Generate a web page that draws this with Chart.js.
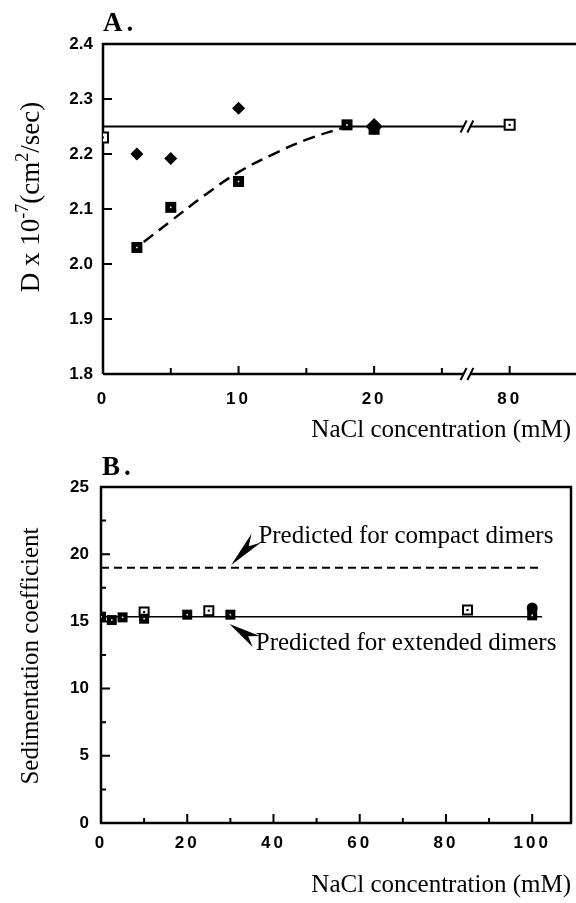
<!DOCTYPE html>
<html>
<head>
<meta charset="utf-8">
<script src="https://cdn.jsdelivr.net/npm/chart.js@4/dist/chart.umd.min.js"></script>
<style>
  html, body { margin: 0; padding: 0; background: #fff; overflow: hidden; }
  #wrapA { position: absolute; left: 0; top: 0; width: 576px; height: 450px; overflow: hidden; }
  #wrapB { position: absolute; left: 0; top: 450px; width: 576px; height: 453px; overflow: hidden; }
  canvas { display: block; }
</style>
</head>
<body>
<div id="wrapA"><canvas id="chartA" width="600" height="450"></canvas></div>
<div id="wrapB"><canvas id="chartB" width="576" height="453"></canvas></div>
<script>
"use strict";
// Panel A - diffusion coefficient vs NaCl (mM)
const aOpenX = [0, 80];
const aOpenY = [2.23, 2.253];
const aFilledX = [2.5, 5, 10, 18, 20];
const aFilledY = [2.03, 2.103, 2.15, 2.253, 2.245];
const aDiamondX = [2.5, 5, 10, 20];
const aDiamondY = [2.2, 2.192, 2.283, 2.25];
const aFitX = [3, 5, 7.5, 10, 12.5, 15, 18];
const aFitY = [2.04, 2.078, 2.125, 2.167, 2.199, 2.226, 2.25];
const aLevel = 2.25;
const aBreak = [26.6, 77.1];          // mM on each side of the axis break
const aYTicks = [1.8, 1.9, 2.0, 2.1, 2.2, 2.3, 2.4];
const aXTicks = [0, 10, 20, 80];
const aXLabels = ['0', '10', '20', '80'];
const aXMinor = [5, 15, 25];

// Panel B - sedimentation coefficient vs NaCl (mM)
const bFilledX = [0, 2.5, 5, 10, 20, 30, 100];
const bFilledY = [15.35, 15.1, 15.3, 15.2, 15.5, 15.5, 15.45];
const bOpenX = [10, 25, 85];
const bOpenY = [15.7, 15.8, 15.85];
const bCircleX = [100];
const bCircleY = [16.0];
const bExtended = 15.35;
const bCompact = 19.0;
const bLineX = [0, 102.3];
const bYTicks = [0, 5, 10, 15, 20, 25];
const bYMinor = [2.5, 7.5, 12.5, 17.5, 22.5];
const bXTicks = [0, 20, 40, 60, 80, 100];
const bXMinor = [10, 30, 50, 70, 90];
const bNotes = ['Predicted for compact dimers', 'Predicted for extended dimers'];
const bNoteAt = [[36.5, 20.84], [35.9, 12.89]];
const bArrowTip = [[30.2, 19.2], [29.8, 14.8]];
const bArrowBack = [[36.0, 21.2], [36.0, 13.5]];

const serif = "'Liberation Serif', 'Times New Roman', serif";
const sans = "'Liberation Sans', Arial, sans-serif";

function brk(mM) { return mM > aBreak[0] ? mM - (aBreak[1] - aBreak[0]) + 0.5 : mM; }
function pts(xs, ys, f) { return xs.map((x, i) => ({x: f ? f(x) : x, y: ys[i]})); }

// square marker (side in px) plus its centre dot, as two datasets on the same points
function squares(data, side, open) {
    return [
        {data: data, pointStyle: 'rect', pointRadius: open ? 1.5 : 1.1,
            backgroundColor: open ? '#000' : '#fff', borderWidth: 0},
        {data: data, pointStyle: 'rect', pointRadius: side / Math.SQRT2,
            backgroundColor: open ? '#fff' : '#000', borderColor: '#000', borderWidth: open ? 2 : 0}
    ];
}

function richText(ctx, parts, bx, cy) {
    // rotated title, baseline at x = bx, centred on cy
    let total = 0;
    parts.forEach(p => { ctx.font = p.f; total += ctx.measureText(p.t).width; });
    ctx.save();
    ctx.translate(bx, cy);
    ctx.rotate(-Math.PI / 2);
    ctx.textBaseline = 'alphabetic';
    ctx.textAlign = 'left';
    let x = -total / 2;
    parts.forEach(p => {
        ctx.font = p.f;
        ctx.fillText(p.t, x, -(p.up || 0));
        x += ctx.measureText(p.t).width;
    });
    ctx.restore();
}

function inward(ctx, chart, axis, values, len) {
    const a = chart.chartArea;
    const s = chart.scales[axis];
    ctx.beginPath();
    values.forEach(v => {
        const p = s.getPixelForValue(v);
        if (axis === 'x') { ctx.moveTo(p, a.bottom); ctx.lineTo(p, a.bottom - len); }
        else { ctx.moveTo(a.left, p); ctx.lineTo(a.left + len, p); }
    });
    ctx.stroke();
}

function slash(ctx, x, y) {
    ctx.moveTo(x - 3, y + 6);
    ctx.lineTo(x + 3, y - 6);
}

// x tick labels with letter spacing, like the original typesetting
const spacing = {
    id: 'spacing',
    afterUpdate(chart) {
        const s = chart.scales.x;
        if (s._spaced) return;
        const orig = s.drawLabels;
        s.drawLabels = function (area) {
            const c = this.ctx;
            const prev = c.letterSpacing;
            c.letterSpacing = '3px';
            orig.call(this, area);
            c.letterSpacing = prev;
        };
        s._spaced = true;
    }
};

function panelTag(ctx, t, x, y) {
    ctx.font = 'bold 27px ' + serif;
    ctx.letterSpacing = '4px';
    ctx.fillText(t, x, y);
    ctx.letterSpacing = '0px';
}

const frameA = {
    id: 'frameA',
    beforeDatasetsDraw(chart) {
        const ctx = chart.ctx, a = chart.chartArea, x = chart.scales.x, y = chart.scales.y;
        const b0 = x.getPixelForValue(brk(aBreak[0])), b1 = x.getPixelForValue(brk(aBreak[1]));
        ctx.save();
        ctx.strokeStyle = '#000';
        ctx.lineWidth = 2.5;
        ctx.beginPath();
        ctx.moveTo(a.left, a.bottom); ctx.lineTo(a.left, a.top); ctx.lineTo(chart.width, a.top);
        ctx.moveTo(a.left, a.bottom); ctx.lineTo(b0, a.bottom);
        ctx.moveTo(b1, a.bottom); ctx.lineTo(chart.width, a.bottom);
        ctx.stroke();
        ctx.lineWidth = 2;
        inward(ctx, chart, 'x', aXTicks.map(brk), 8);
        inward(ctx, chart, 'x', aXMinor, 6);
        inward(ctx, chart, 'y', aYTicks, 9);
        ctx.beginPath();
        const yl = y.getPixelForValue(aLevel);
        slash(ctx, b0, a.bottom); slash(ctx, b1, a.bottom);
        slash(ctx, b0, yl); slash(ctx, b1, yl);
        ctx.stroke();
        ctx.restore();
    },
    afterDraw(chart) {
        const ctx = chart.ctx;
        ctx.save();
        ctx.fillStyle = '#000';
        ctx.textBaseline = 'alphabetic';
        panelTag(ctx, 'A.', 103, 31);
        ctx.font = '25px ' + serif;
        ctx.textAlign = 'right';
        ctx.fillText('NaCl concentration (mM)', 571, 437);
        const big = '27px ' + serif, small = '18px ' + serif;
        richText(ctx, [
            {t: 'D x 10', f: big}, {t: '-7', f: small, up: 11},
            {t: '(cm', f: big}, {t: '2', f: small, up: 11}, {t: '/sec)', f: big}
        ], 39, 197);
        ctx.restore();
    }
};

const frameB = {
    id: 'frameB',
    beforeDatasetsDraw(chart) {
        const ctx = chart.ctx, a = chart.chartArea;
        ctx.save();
        ctx.strokeStyle = '#000';
        ctx.lineWidth = 2.5;
        ctx.strokeRect(a.left, a.top, a.right - a.left, a.bottom - a.top);
        ctx.lineWidth = 2;
        inward(ctx, chart, 'x', bXTicks, 9);
        inward(ctx, chart, 'x', bXMinor, 5);
        inward(ctx, chart, 'y', bYTicks, 9);
        inward(ctx, chart, 'y', bYMinor, 5);
        ctx.restore();
    },
    afterDraw(chart) {
        const ctx = chart.ctx, x = chart.scales.x, y = chart.scales.y;
        ctx.save();
        ctx.fillStyle = '#000';
        panelTag(ctx, 'B.', 102, 25);
        ctx.font = '25px ' + serif;
        bNotes.forEach((t, i) => {
            ctx.fillText(t, x.getPixelForValue(bNoteAt[i][0]), y.getPixelForValue(bNoteAt[i][1]));
        });
        bArrowTip.forEach((tp, i) => {
            const tx = x.getPixelForValue(tp[0]), ty = y.getPixelForValue(tp[1]);
            const bx = x.getPixelForValue(bArrowBack[i][0]), by = y.getPixelForValue(bArrowBack[i][1]);
            const L = Math.hypot(bx - tx, by - ty), ux = (bx - tx) / L, uy = (by - ty) / L;
            const w = 6.5;
            ctx.beginPath();
            ctx.moveTo(tx, ty);
            ctx.lineTo(bx - uy * w, by + ux * w);
            ctx.lineTo(tx + ux * L * 0.7, ty + uy * L * 0.7);
            ctx.lineTo(bx + uy * w, by - ux * w);
            ctx.closePath();
            ctx.fill();
        });
        ctx.textAlign = 'right';
        ctx.fillText('NaCl concentration (mM)', 571, 442);
        richText(ctx, [{t: 'Sedimentation coefficient', f: '25px ' + serif}], 38, 206);
        ctx.restore();
    }
};

function axisX(ticks, labels, min, max, pad, height) {
    return {
        type: 'linear', min: min, max: max,
        afterBuildTicks: s => { s.ticks = ticks.map(v => ({value: v})); },
        afterFit: s => { s.height = height; },
        ticks: {
            callback: (v, i) => labels[i], autoSkip: false, maxRotation: 0,
            padding: pad, color: '#000', font: {family: sans, size: 17, weight: 'bold'}
        },
        grid: {display: false, drawTicks: false},
        border: {display: false}
    };
}

function axisY(ticks, labels, min, max, pad, width) {
    return {
        type: 'linear', min: min, max: max,
        afterBuildTicks: s => { s.ticks = ticks.map(v => ({value: v})); },
        afterFit: s => { s.width = width; },
        ticks: {
            callback: (v, i) => labels[i], autoSkip: false,
            padding: pad, color: '#000', font: {family: sans, size: 17, weight: 'bold'}
        },
        grid: {display: false, drawTicks: false},
        border: {display: false}
    };
}

const base = {
    responsive: false, animation: false, devicePixelRatio: 1,
    plugins: {legend: {display: false}, tooltip: {enabled: false}}
};

const levelA = [{x: 0, y: aLevel}, {x: brk(aBreak[0]), y: aLevel}, {x: 26.85, y: null},
    {x: brk(aBreak[1]), y: aLevel}, {x: brk(80), y: aLevel}];

new Chart(document.getElementById('chartA'), {
    type: 'scatter',
    data: {
        datasets: [
            {data: pts(aDiamondX, aDiamondY, brk), pointStyle: 'rectRot',
                pointRadius: [6.5, 6.5, 6.5, 8.5], backgroundColor: '#000', borderColor: '#000', borderWidth: 0}
        ].concat(
            squares(pts(aFilledX, aFilledY, brk), 11, false),
            squares(pts(aOpenX, aOpenY, brk), 10, true),
            [
                {data: pts(aFitX, aFitY, brk), showLine: true, tension: 0.4, pointRadius: 0,
                    borderColor: '#000', borderWidth: 2.5, borderDash: [12, 7]},
                {data: levelA, showLine: true, spanGaps: false, pointRadius: 0,
                    borderColor: '#000', borderWidth: 2}
            ])
    },
    options: Object.assign({}, base, {
        layout: {autoPadding: false, padding: {left: 0, top: 44, right: 9, bottom: 0}},
        scales: {
            x: axisX(aXTicks.map(brk), aXLabels, 0, 36, 15, 76),
            y: axisY(aYTicks, aYTicks.map(v => v.toFixed(1)), 1.8, 2.4, 10, 103)
        }
    }),
    plugins: [spacing, frameA]
});

new Chart(document.getElementById('chartB'), {
    type: 'scatter',
    data: {
        datasets: [
            {data: pts(bCircleX, bCircleY), pointStyle: 'circle', pointRadius: 5.5,
                backgroundColor: '#000', borderWidth: 0}
        ].concat(
            squares(pts(bFilledX, bFilledY), 10, false),
            squares(pts(bOpenX, bOpenY), 9, true),
            [
                {data: pts(bLineX, [bCompact, bCompact]), showLine: true, pointRadius: 0,
                    borderColor: '#000', borderWidth: 2, borderDash: [8, 5]},
                {data: pts(bLineX, [bExtended, bExtended]), showLine: true, pointRadius: 0,
                    borderColor: '#000', borderWidth: 1.6}
            ])
    },
    options: Object.assign({}, base, {
        layout: {autoPadding: false, padding: {left: 0, top: 37, right: 5, bottom: 0}},
        scales: {
            x: axisX(bXTicks, bXTicks.map(String), 0, 109, 10, 80),
            y: axisY(bYTicks, bYTicks.map(String), 0, 25, 12, 101)
        }
    }),
    plugins: [spacing, frameB]
});
</script>
</body>
</html>
